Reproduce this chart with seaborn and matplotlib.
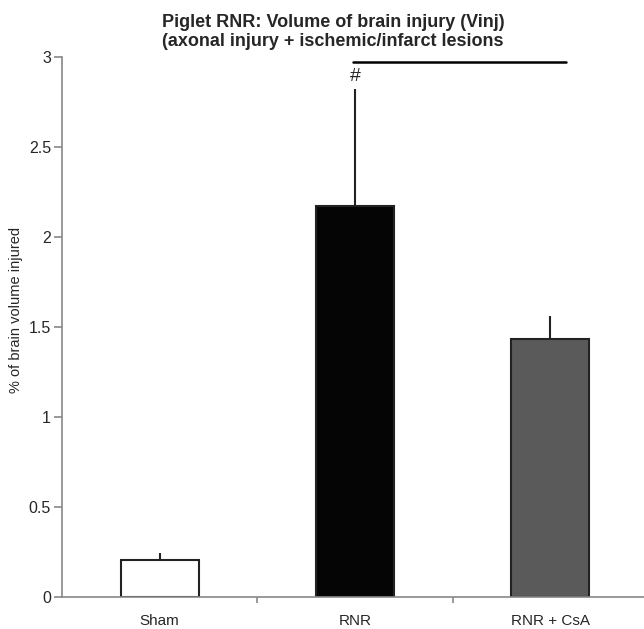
import matplotlib
matplotlib.use("Agg")
import matplotlib.pyplot as plt
import seaborn as sns
import pandas as pd

groups = ["Sham", "RNR", "RNR + CsA"]
means = [0.205, 2.17, 1.435]
upper_err = [0.04, 0.65, 0.125]
bar_colors = ["#ffffff", "#050505", "#5a5a5a"]

sns.set_style("white")
plt.rcParams['font.family'] = ['Liberation Sans', 'DejaVu Sans']

df = pd.DataFrame({"group": groups, "value": means})

fig = plt.figure(figsize=(6.44, 6.29), dpi=100)
ax = fig.add_axes([62/644, 32/629, 1 - 62/644, (597-57)/629])

sns.barplot(data=df, x="group", y="value", hue="group", palette=bar_colors,
            width=0.4, edgecolor="#222222", linewidth=1.5, legend=False, ax=ax)

# one-sided error bars (upper only)
ax.errorbar(range(len(groups)), means, yerr=[[0]*len(groups), upper_err],
            fmt="none", ecolor="#222222", elinewidth=1.5, capsize=0, zorder=1)

ax.set_ylim(0, 3)
ax.set_xlim(-0.5, 2.48)
ax.set_yticks([0, 0.5, 1, 1.5, 2, 2.5, 3])
ax.set_yticklabels(["0", "0.5", "1", "1.5", "2", "2.5", "3"])
ax.set_xticks([0, 1, 2])
ax.set_xticklabels(groups, fontsize=11)
ax.set_xticks([0.5, 1.5], minor=True)
ax.tick_params(axis="x", which="major", length=0, pad=12)
ax.tick_params(axis="x", which="minor", bottom=True, length=4, width=1.2,
               color="#888888", direction="out")
ax.tick_params(axis="y", left=True, length=6, width=1.2, color="#888888",
               direction="out", labelsize=11.5, pad=2)
ax.set_xlabel("")
ax.set_ylabel("")
fig.text(16/644, 1 - 310/629, "% of brain volume injured", rotation=90,
         ha="center", va="center", fontsize=10.5)

sns.despine(ax=ax, top=True, right=True)
for s in ["left", "bottom"]:
    ax.spines[s].set_color("#888888")
    ax.spines[s].set_linewidth(1.2)

# significance line and marker
ax.plot([0.99, 2.08], [2.97, 2.97], color="black", linewidth=1.8, clip_on=False)
ax.text(1.0, 2.89, "#", ha="center", va="center", fontsize=14)

fig.text(0.517, 0.949, "Piglet RNR: Volume of brain injury (Vinj)\n(axonal injury + ischemic/infarct lesions",
         ha="center", va="center", fontsize=13, fontweight="bold", linespacing=1.15)

fig.savefig("out.png", dpi=100)
